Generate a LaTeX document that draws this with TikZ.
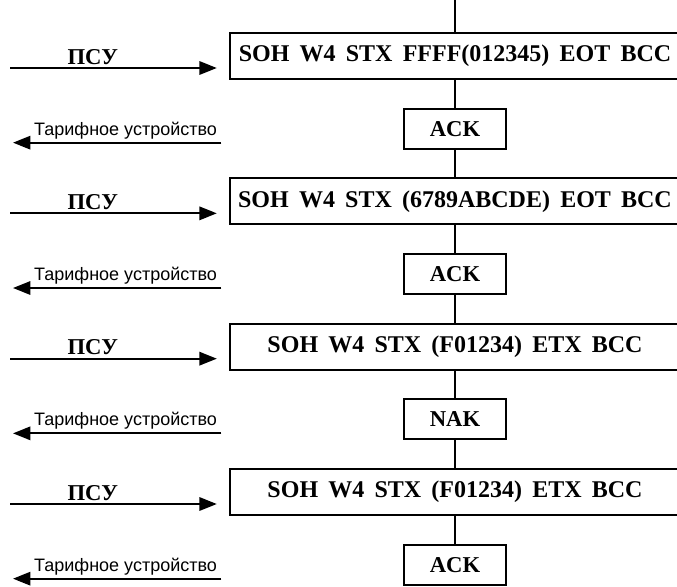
\documentclass[tikz,border=0pt]{standalone}
\usepackage{fontspec}
\setmainfont{Liberation Serif}
\newfontfamily\framefamily[WordSpace=1.7]{Liberation Serif}
\newfontfamily\labelsans{Liberation Sans}
\usetikzlibrary{arrows.meta}

\newcommand\framefont{\framefamily\bfseries\fontsize{18}{20}\selectfont}
\newcommand\ackfont{\bfseries\fontsize{17}{19}\selectfont}

\begin{document}
\begin{tikzpicture}[
            x=0.75pt, y=0.75pt,
            grow=down,
            level 1/.style={level distance=42pt},
            level 2/.style={level distance=54.5pt},
            edge from parent/.style={draw,line width=1.3pt},
            frame/.style={draw,line width=1.3pt,minimum width=338pt,minimum height=34.5pt,inner sep=0pt,font=\framefont},
            reply/.style={draw,line width=1.3pt,minimum width=77pt,minimum height=30pt,inner sep=0pt,font=\ackfont},
            tx/.style={line width=1.5pt,-{Triangle[length=13pt,width=10pt]}},
            psu/.style={font=\ackfont,inner sep=2pt},
            tariff/.style={font=\labelsans\fontsize{13.5}{15}\selectfont,inner sep=2pt}
        ]

        \useasboundingbox (0,0) rectangle (677,-586);

        \node[coordinate] (top) at (455,0) {}
        child {node[frame] (b1) {SOH W4 STX FFFF(012345) EOT BCC}
            child {node[reply] (r1) {ACK}
                child {node[frame] (b2) {SOH W4 STX (6789ABCDE) EOT BCC}
                    child {node[reply] (r2) {ACK}
                        child {node[frame] (b3) {SOH W4 STX (F01234) ETX BCC}
                            child {node[reply] (r3) {NAK}
                                child {node[frame] (b4) {SOH W4 STX (F01234) ETX BCC}
                                    child {node[reply] (r4) {ACK}}
                                }
                            }
                        }
                    }
                }
            }
        };

        \coordinate (wall) at (10,0);
        \coordinate (wallr) at (13,0);

        \foreach \i in {1,...,4} {
            \coordinate (in\i) at ([xshift=-9pt,yshift=-9pt]b\i.west);
            \draw[tx] (in\i -| wall) -- node[above,pos=0.4,psu] (p\i) {ПСУ} (in\i);
            \coordinate (out\i) at ([xshift=-136pt,yshift=-10.5pt]r\i.west);
            \draw[tx] (out\i) -- node[above,pos=0.46,tariff] (t\i) {Тарифное устройство} (out\i -| wallr);
        }

    \end{tikzpicture}
\end{document}
